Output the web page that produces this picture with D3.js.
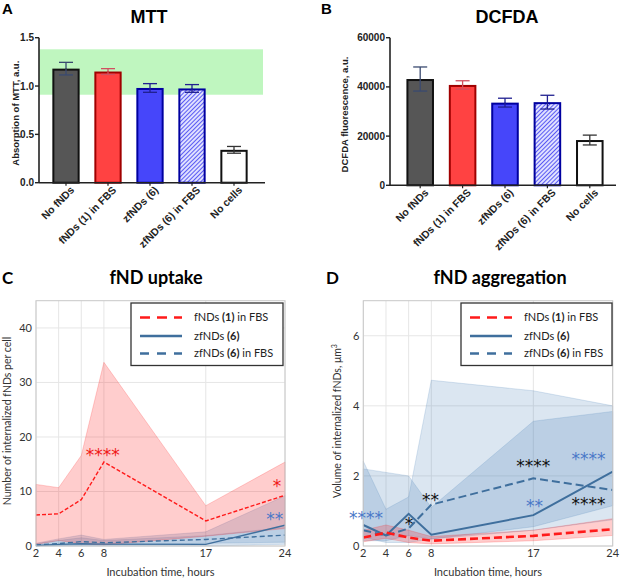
<!DOCTYPE html>
<html>
<head>
<meta charset="utf-8">
<script src="https://d3js.org/d3.v7.min.js"></script>
<style>
  body { margin: 0; background: #fff; }
  svg { display: block; }
  .bold { font-family: "Liberation Sans", Arial, sans-serif; font-weight: bold; }
  .cal { font-family: Lato, "Open Sans", sans-serif; }
</style>
</head>
<body>
<svg id="fig" width="620" height="579"></svg>
<script>
// ---- bar panels (A, B)
const barCategories = ["No fNDs", "fNDs (1) in FBS", "zfNDs (6)", "zfNDs (6) in FBS", "No cells"];
const mttMean = [1.18, 1.15, 0.98, 0.975, 0.34];
const mttErr = [0.065, 0.03, 0.045, 0.04, 0.035];
const mttNormalRange = [0.91, 1.38];
const mttTicks = [0, 0.5, 1.0, 1.5];
const dcfdaMean = [43200, 40800, 33600, 33800, 18400];
const dcfdaErr = [4900, 1700, 1800, 2800, 2000];
const dcfdaTicks = [0, 20000, 40000, 60000];

// ---- time course panels (C, D)
const hours = [2, 4, 6, 8, 17, 24];
const seriesNames = ["fNDs (1) in FBS", "zfNDs (6)", "zfNDs (6) in FBS"];

const uptakeRedMean = [5.7, 5.9, 8.5, 15.4, 4.6, 9.3];
const uptakeRedUpper = [11.3, 10.7, 16.6, 33.7, 7.4, 15.4];
const uptakeRedLower = [0.3, 1.0, 0.4, 0.2, 1.8, 3.2];
const uptakeZfMean = [0.1, 0.3, 0.4, 0.35, 0.3, 3.8];
const uptakeZfUpper = [0.5, 1.3, 2.0, 1.2, 2.6, 9.2];
const uptakeZfLower = [0, 0, 0, 0, 0, 0.3];
const uptakeFbsMean = [0.2, 0.45, 0.8, 0.6, 1.2, 2.0];
const uptakeFbsUpper = [0.4, 1.0, 1.5, 1.0, 1.9, 3.4];
const uptakeFbsLower = [0, 0.1, 0.2, 0.2, 0.5, 0.7];
const uptakeTicks = [0, 10, 20, 30, 40];

const aggRedMean = [0.24, 0.38, 0.24, 0.15, 0.29, 0.48];
const aggRedUpper = [0.45, 0.6, 0.45, 0.27, 0.45, 0.78];
const aggRedLower = [0.12, 0.22, 0.1, 0.06, 0.15, 0.3];
const aggZfMean = [0.6, 0.3, 0.92, 0.32, 0.88, 2.12];
const aggZfUpper = [2.2, 2.1, 2.0, 1.1, 3.56, 3.84];
const aggZfLower = [0.15, 0.15, 0.3, 0.2, 0.55, 1.15];
const aggFbsMean = [0.45, 0.3, 0.5, 1.18, 1.93, 1.6];
const aggFbsUpper = [2.42, 1.05, 1.4, 4.73, 4.43, 4.0];
const aggFbsLower = [0.25, 0.1, 0.1, 0.2, 0.45, 0.75];
const aggTicks = [0, 2, 4, 6];

// significance marks: [text, hour, value, colour]
const uptakeStars = [["****", 7.9, 17.2, "red"], ["*", 23.3, 11.5, "red"], ["**", 23.1, 5.5, "blue"]];
const aggStars = [["****", 2.24, 0.88, "blue"], ["*", 6.03, 0.7, "black"], ["**", 7.93, 1.4, "black"],
                  ["****", 17.0, 2.37, "black"], ["**", 17.1, 1.23, "blue"],
                  ["****", 21.86, 2.55, "blue"], ["****", 21.86, 1.29, "black"]];

const svg = d3.select("#fig");
const defs = svg.append("defs");
const hatch = defs.append("pattern").attr("id", "hatch").attr("patternUnits", "userSpaceOnUse")
  .attr("width", 3).attr("height", 3).attr("patternTransform", "rotate(45)");
hatch.append("rect").attr("width", 3).attr("height", 3).attr("fill", "#dfe0ff");
hatch.append("line").attr("x1", 0).attr("y1", 0).attr("x2", 0).attr("y2", 3)
  .attr("stroke", "#3838f0").attr("stroke-width", 1.6);

const barFill = ["#565656", "#ff4242", "#4646fa", "url(#hatch)", "#ffffff"];
const barStroke = ["#111111", "#a00000", "#0000a0", "#0000a0", "#111111"];
const errStroke = ["#3a4a70", "#d05060", "#202090", "#202090", "#333333"];

function barPanel(opt) {
  const g = svg.append("g");
  const x = d3.scaleBand().domain(barCategories).range(opt.xr).paddingInner(0.35).paddingOuter(0.175);
  const y = d3.scaleLinear().domain(opt.dom).range(opt.yr);
  if (opt.band) {
    g.append("rect").attr("x", opt.axisX[0]).attr("width", opt.axisX[1] - opt.axisX[0] - 2)
      .attr("y", y(opt.band[1])).attr("height", y(opt.band[0]) - y(opt.band[1]))
      .attr("fill", "#b8f5b8").attr("opacity", 0.9);
  }
  barCategories.forEach((c, i) => {
    const cx = x(c) + x.bandwidth() / 2;
    g.append("line").attr("x1", cx).attr("x2", cx)
      .attr("y1", y(opt.mean[i] + opt.err[i])).attr("y2", y(opt.mean[i] - opt.err[i]))
      .attr("stroke", errStroke[i]).attr("stroke-width", 1.3);
    g.append("line").attr("x1", cx - 7).attr("x2", cx + 7)
      .attr("y1", y(opt.mean[i] + opt.err[i])).attr("y2", y(opt.mean[i] + opt.err[i]))
      .attr("stroke", errStroke[i]).attr("stroke-width", 1.3);
  });
  g.selectAll("rect.bar").data(opt.mean).enter().append("rect").attr("class", "bar")
    .attr("x", (d, i) => x(barCategories[i]) + 1)
    .attr("width", x.bandwidth() - 2)
    .attr("y", d => y(d) + 1)
    .attr("height", d => y(0) - y(d) - 1)
    .attr("fill", (d, i) => barFill[i])
    .attr("stroke", (d, i) => barStroke[i]).attr("stroke-width", 2);
  // lower halves of error bars drawn over the bars
  barCategories.forEach((c, i) => {
    const cx = x(c) + x.bandwidth() / 2;
    g.append("line").attr("x1", cx).attr("x2", cx)
      .attr("y1", y(opt.mean[i])).attr("y2", y(opt.mean[i] - opt.err[i]))
      .attr("stroke", errStroke[i]).attr("stroke-width", 1.3);
    g.append("line").attr("x1", cx - 7).attr("x2", cx + 7)
      .attr("y1", y(opt.mean[i] - opt.err[i])).attr("y2", y(opt.mean[i] - opt.err[i]))
      .attr("stroke", errStroke[i]).attr("stroke-width", 1.3);
  });
  // axes
  g.append("line").attr("x1", opt.axisX[0]).attr("x2", opt.axisX[1]).attr("y1", y(0)).attr("y2", y(0))
    .attr("stroke", "#222").attr("stroke-width", 1.6);
  g.append("line").attr("x1", opt.axisX[0]).attr("x2", opt.axisX[0]).attr("y1", y(0)).attr("y2", y(opt.dom[1]))
    .attr("stroke", "#222").attr("stroke-width", 1.6);
  opt.ticks.forEach(t => {
    g.append("line").attr("x1", opt.axisX[0] - 4).attr("x2", opt.axisX[0]).attr("y1", y(t)).attr("y2", y(t))
      .attr("stroke", "#222").attr("stroke-width", 1.4);
    g.append("text").attr("class", "bold").attr("x", opt.axisX[0] - 5).attr("y", y(t)).attr("dy", "0.35em")
      .attr("text-anchor", "end").attr("font-size", 10).attr("fill", "#222").text(opt.fmt(t));
  });
  barCategories.forEach(c => {
    const cx = x(c) + x.bandwidth() / 2;
    g.append("line").attr("x1", cx).attr("x2", cx).attr("y1", y(0)).attr("y2", y(0) + 3)
      .attr("stroke", "#222").attr("stroke-width", 1.2);
    g.append("text").attr("class", "bold").attr("font-size", 10.5).attr("fill", "#222")
      .attr("text-anchor", "end")
      .attr("transform", `translate(${cx + 9},${y(0) + 8}) rotate(-45)`).text(c);
  });
  g.append("text").attr("class", "bold").attr("font-size", opt.ylabSize).attr("fill", "#222")
    .attr("text-anchor", "middle")
    .attr("transform", `translate(${opt.ylabX},${(y(0) + y(opt.dom[1])) / 2 + 3}) rotate(-90)`).text(opt.ylab);
  g.append("text").attr("class", "bold").attr("font-size", 18).attr("text-anchor", "middle")
    .attr("x", opt.titleX).attr("y", 23).text(opt.title);
  g.append("text").attr("class", "bold").attr("font-size", 15).attr("x", opt.letterX).attr("y", 14).text(opt.letter);
}

barPanel({ xr: [45, 255], axisX: [39, 265], yr: [182.7, 37.7], dom: [0, 1.5], mean: mttMean, err: mttErr,
  band: mttNormalRange, ticks: mttTicks, fmt: d3.format(".1f"), ylab: "Absorption of MTT, a.u.", ylabX: 19,
  ylabSize: 9.5, title: "MTT", titleX: 149, letter: "A", letterX: 2 });
barPanel({ xr: [399, 611], axisX: [390, 616], yr: [185.3, 37.7], dom: [0, 60000], mean: dcfdaMean, err: dcfdaErr,
  band: null, ticks: dcfdaTicks, fmt: d3.format("d"), ylab: "DCFDA fluorescence, a.u.", ylabX: 348,
  ylabSize: 9.5, title: "DCFDA", titleX: 507, letter: "B", letterX: 321 });

const blue = "#3f6f9d";
const starColor = { red: "#f01818", blue: "#4a78c8", black: "#111" };

function linePanel(opt) {
  const g = svg.append("g");
  const x = d3.scaleLinear().domain([2, 24]).range(opt.xr);
  const y = d3.scaleLinear().domain(opt.dom).range([546, 300.7]);
  g.append("rect").attr("x", opt.xr[0]).attr("y", 300.7).attr("width", opt.xr[1] - opt.xr[0])
    .attr("height", 546 - 300.7).attr("fill", "#fff");
  hours.forEach(h => g.append("line").attr("x1", x(h)).attr("x2", x(h)).attr("y1", 300.7).attr("y2", 546)
    .attr("stroke", "#e6e6e6").attr("stroke-width", 1));
  opt.ticks.forEach(t => g.append("line").attr("x1", opt.xr[0]).attr("x2", opt.xr[1]).attr("y1", y(t)).attr("y2", y(t))
    .attr("stroke", "#e6e6e6").attr("stroke-width", 1));

  const area = d3.area().x((d, i) => x(hours[i])).y0(d => y(d[0])).y1(d => y(d[1]));
  const line = d3.line().x((d, i) => x(hours[i])).y(d => y(d));
  const bands = [
    [opt.fbs, "#4a80b8", 0.2], [opt.zf, "#4a80b8", 0.22], [opt.red, "#ff1a1a", 0.22]
  ];
  bands.forEach(([s, col, op]) => {
    g.append("path").datum(s.lower.map((l, i) => [l, s.upper[i]])).attr("d", area)
      .attr("fill", col).attr("fill-opacity", op).attr("stroke", col).attr("stroke-opacity", 0.25).attr("stroke-width", 0.8);
  });
  g.append("path").datum(opt.fbs.mean).attr("d", line).attr("fill", "none").attr("stroke", blue)
    .attr("stroke-width", opt.lw).attr("stroke-dasharray", opt.blueDash);
  g.append("path").datum(opt.zf.mean).attr("d", line).attr("fill", "none").attr("stroke", blue)
    .attr("stroke-width", opt.lw);
  g.append("path").datum(opt.red.mean).attr("d", line).attr("fill", "none").attr("stroke", "#ff1a1a")
    .attr("stroke-width", opt.redW).attr("stroke-dasharray", opt.redDash);

  // frame
  g.append("rect").attr("x", opt.xr[0]).attr("y", 300.7).attr("width", opt.xr[1] - opt.xr[0])
    .attr("height", 546 - 300.7).attr("fill", "none").attr("stroke", "#c8c8c8").attr("stroke-width", 1);

  opt.stars.forEach(([t, h, v, c]) => {
    g.append("text").attr("x", x(h)).attr("y", y(v)).attr("dy", "0.52em").attr("text-anchor", "middle")
      .attr("font-family", "DejaVu Sans").attr("font-size", 17).attr("fill", starColor[c]).text(t);
  });

  // ticks
  hours.forEach(h => g.append("text").attr("class", "cal").attr("x", x(h)).attr("y", 557).attr("text-anchor", "middle")
    .attr("font-size", 11).attr("fill", "#333").text(h));
  opt.ticks.forEach(t => g.append("text").attr("class", "cal").attr("x", opt.xr[0] - 4).attr("y", y(t)).attr("dy", "0.35em")
    .attr("text-anchor", "end").attr("font-size", 11).attr("fill", "#333").text(t));
  g.append("text").attr("class", "cal").attr("x", (opt.xr[0] + opt.xr[1]) / 2).attr("y", 576)
    .attr("text-anchor", "middle").attr("font-size", 11).attr("fill", "#333").text("Incubation time, hours");
  const yl = g.append("text").attr("class", "cal").attr("font-size", 10.5).attr("fill", "#333").attr("text-anchor", "middle")
    .attr("transform", `translate(${opt.ylabX},421) rotate(-90)`).text(opt.ylab);
  if (opt.sup) yl.append("tspan").attr("dy", -4).attr("font-size", 7).text(opt.sup);

  // legend
  const lg = g.append("g");
  lg.append("rect").attr("x", opt.leg[0]).attr("y", 303).attr("width", opt.leg[1] - opt.leg[0]).attr("height", 62.5)
    .attr("fill", "#fff").attr("stroke", "#333").attr("stroke-width", 1.3);
  const rows = [[317.5, "#ff1a1a", "10,7"], [336, blue, null], [353.5, blue, "9,8"]];
  rows.forEach(([ry, col, dash], i) => {
    lg.append("line").attr("x1", opt.leg[0] + 9).attr("x2", opt.leg[0] + 51).attr("y1", ry).attr("y2", ry)
      .attr("stroke", col).attr("stroke-width", 2.6).attr("stroke-dasharray", dash);
    const [pre, num, post] = seriesNames[i].match(/^(\S+) (\(\d\))(.*)$/).slice(1);
    const t = lg.append("text").attr("class", "cal").attr("x", opt.leg[0] + 63).attr("y", ry).attr("dy", "0.36em")
      .attr("font-size", 11).attr("fill", "#222");
    t.append("tspan").text(pre + " ");
    t.append("tspan").attr("font-weight", "bold").text(num);
    t.append("tspan").text(post);
  });

  g.append("text").attr("class", "cal").attr("font-weight", "bold").attr("font-size", 18).attr("text-anchor", "middle")
    .attr("x", opt.titleX).attr("y", 284).text(opt.title);
  g.append("text").attr("class", "cal").attr("font-weight", "bold").attr("font-size", 17)
    .attr("x", opt.letterX).attr("y", 284).text(opt.letter);
}

linePanel({
  xr: [36, 285], dom: [0, 45], ticks: uptakeTicks, lw: 1.4, redW: 1.4, redDash: "4,2", blueDash: "5,3",
  red: { mean: uptakeRedMean, upper: uptakeRedUpper, lower: uptakeRedLower },
  zf: { mean: uptakeZfMean, upper: uptakeZfUpper, lower: uptakeZfLower },
  fbs: { mean: uptakeFbsMean, upper: uptakeFbsUpper, lower: uptakeFbsLower },
  stars: uptakeStars, ylab: "Number of internalized fNDs per cell", ylabX: 11,
  leg: [131, 283], title: "fND uptake", titleX: 156, letter: "C", letterX: 2
});
linePanel({
  xr: [363.3, 612.7], dom: [0, 7], ticks: aggTicks, lw: 2, redW: 2.6, redDash: "8,4", blueDash: "8,4",
  red: { mean: aggRedMean, upper: aggRedUpper, lower: aggRedLower },
  zf: { mean: aggZfMean, upper: aggZfUpper, lower: aggZfLower },
  fbs: { mean: aggFbsMean, upper: aggFbsUpper, lower: aggFbsLower },
  stars: aggStars, ylab: "Volume of internalized fNDs, \u03bcm", sup: "3", ylabX: 341,
  leg: [461, 612], title: "fND aggregation", titleX: 500, letter: "D", letterX: 326
});
</script>
</body>
</html>
